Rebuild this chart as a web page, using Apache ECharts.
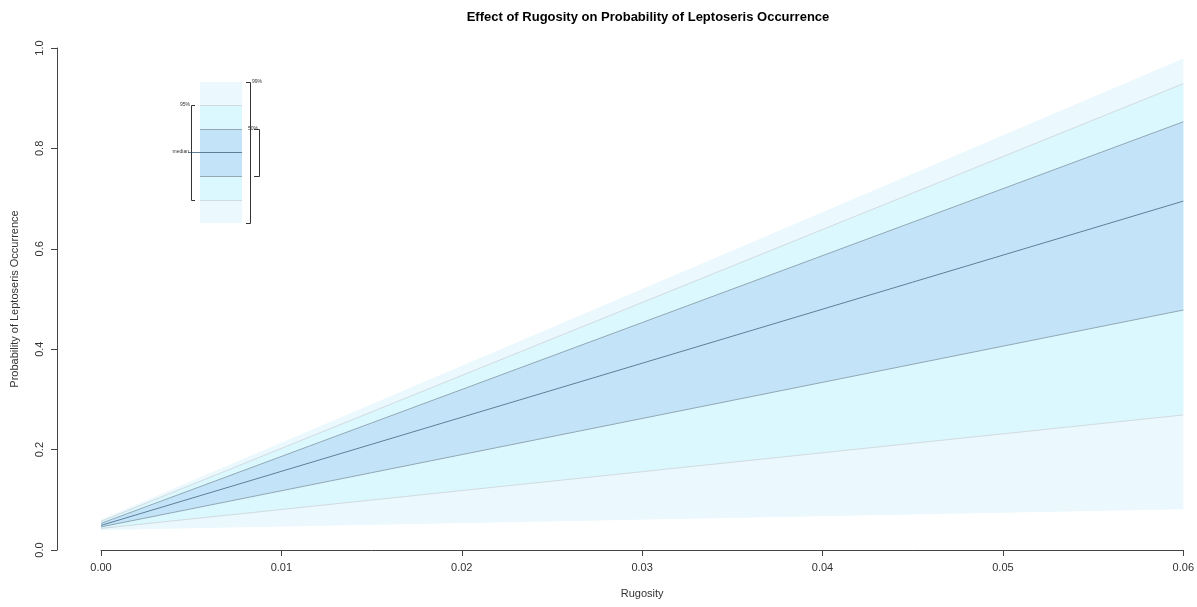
<!DOCTYPE html>
<html>
<head>
<meta charset="utf-8">
<title>Effect of Rugosity on Probability of Leptoseris Occurrence</title>
<script src="https://cdn.jsdelivr.net/npm/echarts@6/dist/echarts.min.js"></script>
<style>
  html, body { margin: 0; padding: 0; background: #ffffff; }
  #chart { width: 1197px; height: 607px; }
</style>
</head>
<body>
<div id="chart"></div>
<script>
// Rugosity values at which the prediction quantiles are given
const rugosity = [0.00, 0.06];

// Predicted probability quantiles
const q005  = [0.040, 0.081];  // outer interval, lower edge
const q025  = [0.043, 0.269];  // 95% interval, lower edge
const q250  = [0.046, 0.478];  // 50% interval, lower edge
const q500  = [0.049, 0.695];  // median
const q750  = [0.053, 0.853];  // 50% interval, upper edge
const q975  = [0.057, 0.929];  // 95% interval, upper edge
const q995  = [0.061, 0.979];  // outer interval, upper edge

const xTicks = [0.00, 0.01, 0.02, 0.03, 0.04, 0.05, 0.06];
const yTicks = [0.0, 0.2, 0.4, 0.6, 0.8, 1.0];

const COL_OUTER = '#ebf8fd';
const COL_MID   = '#dbf8fe';
const COL_INNER = '#c3e4f8';
const LINE_MID   = '#d2dbe0';
const LINE_INNER = '#93a7b5';
const LINE_MED   = '#5f7f98';
const INK = '#333333';
const FONT = 'Liberation Sans, Arial, sans-serif';

const pairs = ys => rugosity.map((x, i) => [x, ys[i]]);

// Filled band between two quantile curves, projected through the axes
function band(name, lo, hi, color) {
  return {
    name, type: 'custom', silent: true, z: 1,
    xAxisIndex: 0, yAxisIndex: 0,
    data: [[rugosity[0], lo[0]]],
    renderItem: (params, api) => {
      const top = rugosity.map((x, i) => api.coord([x, hi[i]]));
      const bot = rugosity.map((x, i) => api.coord([x, lo[i]])).reverse();
      return { type: 'polygon', shape: { points: top.concat(bot) }, style: { fill: color } };
    }
  };
}
function edge(name, data, color) {
  return {
    name, type: 'line', data: pairs(data),
    xAxisIndex: 0, yAxisIndex: 0,
    symbol: 'none', silent: true, z: 5,
    lineStyle: { width: 1, color }
  };
}

const chart = echarts.init(document.getElementById('chart'), null, { renderer: 'canvas' });

// Legend box drawn with graphic primitives
const lg = { x: 200, w: 42, top: 82, q025: 105, q250: 129, med: 152, q750: 176, q975: 200, bot: 223 };
const legend = [
  { type: 'rect', shape: { x: lg.x, y: lg.top, width: lg.w, height: lg.bot - lg.top }, style: { fill: COL_OUTER } },
  { type: 'rect', shape: { x: lg.x, y: lg.q025, width: lg.w, height: lg.q975 - lg.q025 }, style: { fill: COL_MID } },
  { type: 'rect', shape: { x: lg.x, y: lg.q250, width: lg.w, height: lg.q750 - lg.q250 }, style: { fill: COL_INNER } },
  { type: 'line', shape: { x1: lg.x, y1: lg.q025 + 0.5, x2: lg.x + lg.w, y2: lg.q025 + 0.5 }, style: { stroke: LINE_MID } },
  { type: 'line', shape: { x1: lg.x, y1: lg.q975 + 0.5, x2: lg.x + lg.w, y2: lg.q975 + 0.5 }, style: { stroke: LINE_MID } },
  { type: 'line', shape: { x1: lg.x, y1: lg.q250 + 0.5, x2: lg.x + lg.w, y2: lg.q250 + 0.5 }, style: { stroke: LINE_INNER } },
  { type: 'line', shape: { x1: lg.x, y1: lg.q750 + 0.5, x2: lg.x + lg.w, y2: lg.q750 + 0.5 }, style: { stroke: LINE_INNER } },
  { type: 'line', shape: { x1: 188, y1: lg.med + 0.5, x2: lg.x + lg.w, y2: lg.med + 0.5 }, style: { stroke: LINE_MED } },
  // left bracket (95%)
  { type: 'polyline', shape: { points: [[195, lg.q025 + 0.5], [191.5, lg.q025 + 0.5], [191.5, lg.q975 + 0.5], [195, lg.q975 + 0.5]] }, style: { stroke: INK, fill: null } },
  // outer right bracket
  { type: 'polyline', shape: { points: [[246, lg.top + 0.5], [250.5, lg.top + 0.5], [250.5, lg.bot + 0.5], [246, lg.bot + 0.5]] }, style: { stroke: INK, fill: null } },
  // inner right bracket (50%)
  { type: 'polyline', shape: { points: [[254, lg.q250 + 0.5], [259.5, lg.q250 + 0.5], [259.5, lg.q750 + 0.5], [254, lg.q750 + 0.5]] }, style: { stroke: INK, fill: null } },
  { type: 'text', x: 190, y: lg.q025, style: { text: '95%', fontSize: 5, fill: INK, align: 'right', verticalAlign: 'middle', fontFamily: FONT } },
  { type: 'text', x: 189, y: lg.med, style: { text: 'median', fontSize: 5, fill: INK, align: 'right', verticalAlign: 'middle', fontFamily: FONT } },
  { type: 'text', x: 252, y: lg.top, style: { text: '99%', fontSize: 5, fill: INK, align: 'left', verticalAlign: 'middle', fontFamily: FONT } },
  { type: 'text', x: 248, y: lg.q250, style: { text: '50%', fontSize: 5, fill: INK, align: 'left', verticalAlign: 'middle', fontFamily: FONT } }
];

const axisLineStyle = { color: '#444444', width: 1 };

chart.setOption({
  animation: false,
  backgroundColor: '#ffffff',
  textStyle: { fontFamily: FONT },
  title: {
    text: 'Effect of Rugosity on Probability of Leptoseris Occurrence',
    left: 643, top: 6, textAlign: 'center',
    textStyle: { fontSize: 13, fontWeight: 'bold', color: '#000000', fontFamily: FONT }
  },
  grid: [
    // plotting area
    { left: 101, right: 12, top: 48, bottom: 57 },
    // narrow strip that carries the detached y axis
    { left: 57, width: 1, top: 48, bottom: 57 }
  ],
  xAxis: [
    {
      gridIndex: 0, type: 'value', min: 0, max: 0.06, interval: 0.01,
      offset: 1,
      name: 'Rugosity', nameLocation: 'middle', nameGap: 37,
      nameTextStyle: { fontSize: 11, color: INK },
      axisLine: { show: true, lineStyle: axisLineStyle },
      axisTick: { show: true, length: 6, lineStyle: axisLineStyle },
      axisLabel: { fontSize: 11, color: INK, margin: 11, formatter: v => v.toFixed(2) },
      splitLine: { show: false }
    },
    { gridIndex: 1, type: 'value', min: 0, max: 1, show: false }
  ],
  yAxis: [
    {
      gridIndex: 0, type: 'value', min: 0, max: 1, interval: 0.2,
      axisLine: { show: false }, axisTick: { show: false }, axisLabel: { show: false },
      splitLine: { show: false }
    },
    {
      gridIndex: 1, type: 'value', min: 0, max: 1, interval: 0.2,
      name: 'Probability of Leptoseris Occurrence', nameLocation: 'middle', nameGap: 37, nameRotate: 90,
      nameTextStyle: { fontSize: 11, color: INK },
      axisLine: { show: true, lineStyle: axisLineStyle },
      axisTick: { show: true, length: 6, lineStyle: axisLineStyle },
      axisLabel: { fontSize: 11, color: INK, margin: 12, rotate: 90, formatter: v => v.toFixed(1) },
      splitLine: { show: false }
    }
  ],
  graphic: legend,
  series: [
    band('outer', q005, q995, COL_OUTER),
    band('mid', q025, q975, COL_MID),
    band('inner', q250, q750, COL_INNER),
    edge('q025', q025, LINE_MID),
    edge('q975', q975, LINE_MID),
    edge('q250', q250, LINE_INNER),
    edge('q750', q750, LINE_INNER),
    edge('q500', q500, LINE_MED)
  ]
});
</script>
</body>
</html>
